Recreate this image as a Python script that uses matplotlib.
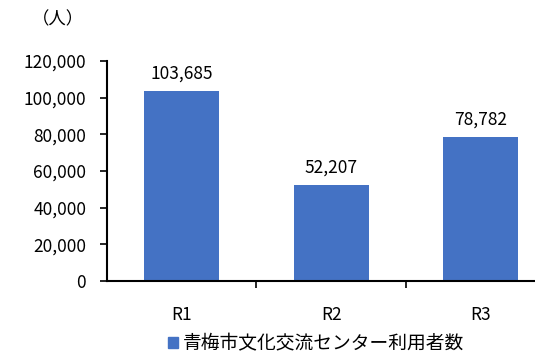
import matplotlib.pyplot as plt
import matplotlib.ticker as mticker
from matplotlib.patches import Patch

plt.rcParams['font.family'] = ['Noto Sans CJK JP', 'DejaVu Sans']

# データ
categories = ['R1', 'R2', 'R3']
users = [103685, 52207, 78782]
series_name = '青梅市文化交流センター利用者数'
bar_color = '#4472C4'

fig = plt.figure(figsize=(5.35, 3.6), dpi=100)
ax = fig.add_axes([0.2, 0.2194, 0.8, 0.6112])

x = list(range(len(categories)))
bars = ax.bar(x, users, width=0.5, color=bar_color, zorder=2)

for xi, v in zip(x, users):
    ax.annotate(f'{v:,}', (xi, v), xytext=(0, 6), textcoords='offset points',
                ha='center', va='bottom', fontsize=12.5)

ax.set_ylim(0, 120000)
ax.set_xlim(-0.5, 2.363)
ax.yaxis.set_major_locator(mticker.MultipleLocator(20000))
ax.yaxis.set_major_formatter(mticker.FuncFormatter(lambda v, p: f'{int(v):,}'))

# 目盛り: x は区切り位置に、ラベルは中央
ax.set_xticks([0.5, 1.5])
ax.set_xticklabels([])
ax.set_xticks(x, minor=True)
ax.set_xticklabels(categories, minor=True)
ax.tick_params(axis='x', which='minor', length=0, pad=18, labelsize=12.5)
ax.tick_params(axis='x', which='major', length=5, width=1.2, direction='out')
ax.tick_params(axis='y', length=5, width=1.2, direction='out', labelsize=12.5, pad=10)

for s in ['top', 'right']:
    ax.spines[s].set_visible(False)
for s in ['left', 'bottom']:
    ax.spines[s].set_linewidth(1.5)
    ax.spines[s].set_color('black')

fig.text(0.108, 0.945, '（人）', ha='center', va='center', fontsize=12.5)

fig.legend(handles=[Patch(color=bar_color, label=series_name)],
           loc='center', bbox_to_anchor=(0.59, 0.045), frameon=False,
           fontsize=13.5, handlelength=0.55, handleheight=0.55, handletextpad=0.25)

fig.savefig('out.png', dpi=100)
